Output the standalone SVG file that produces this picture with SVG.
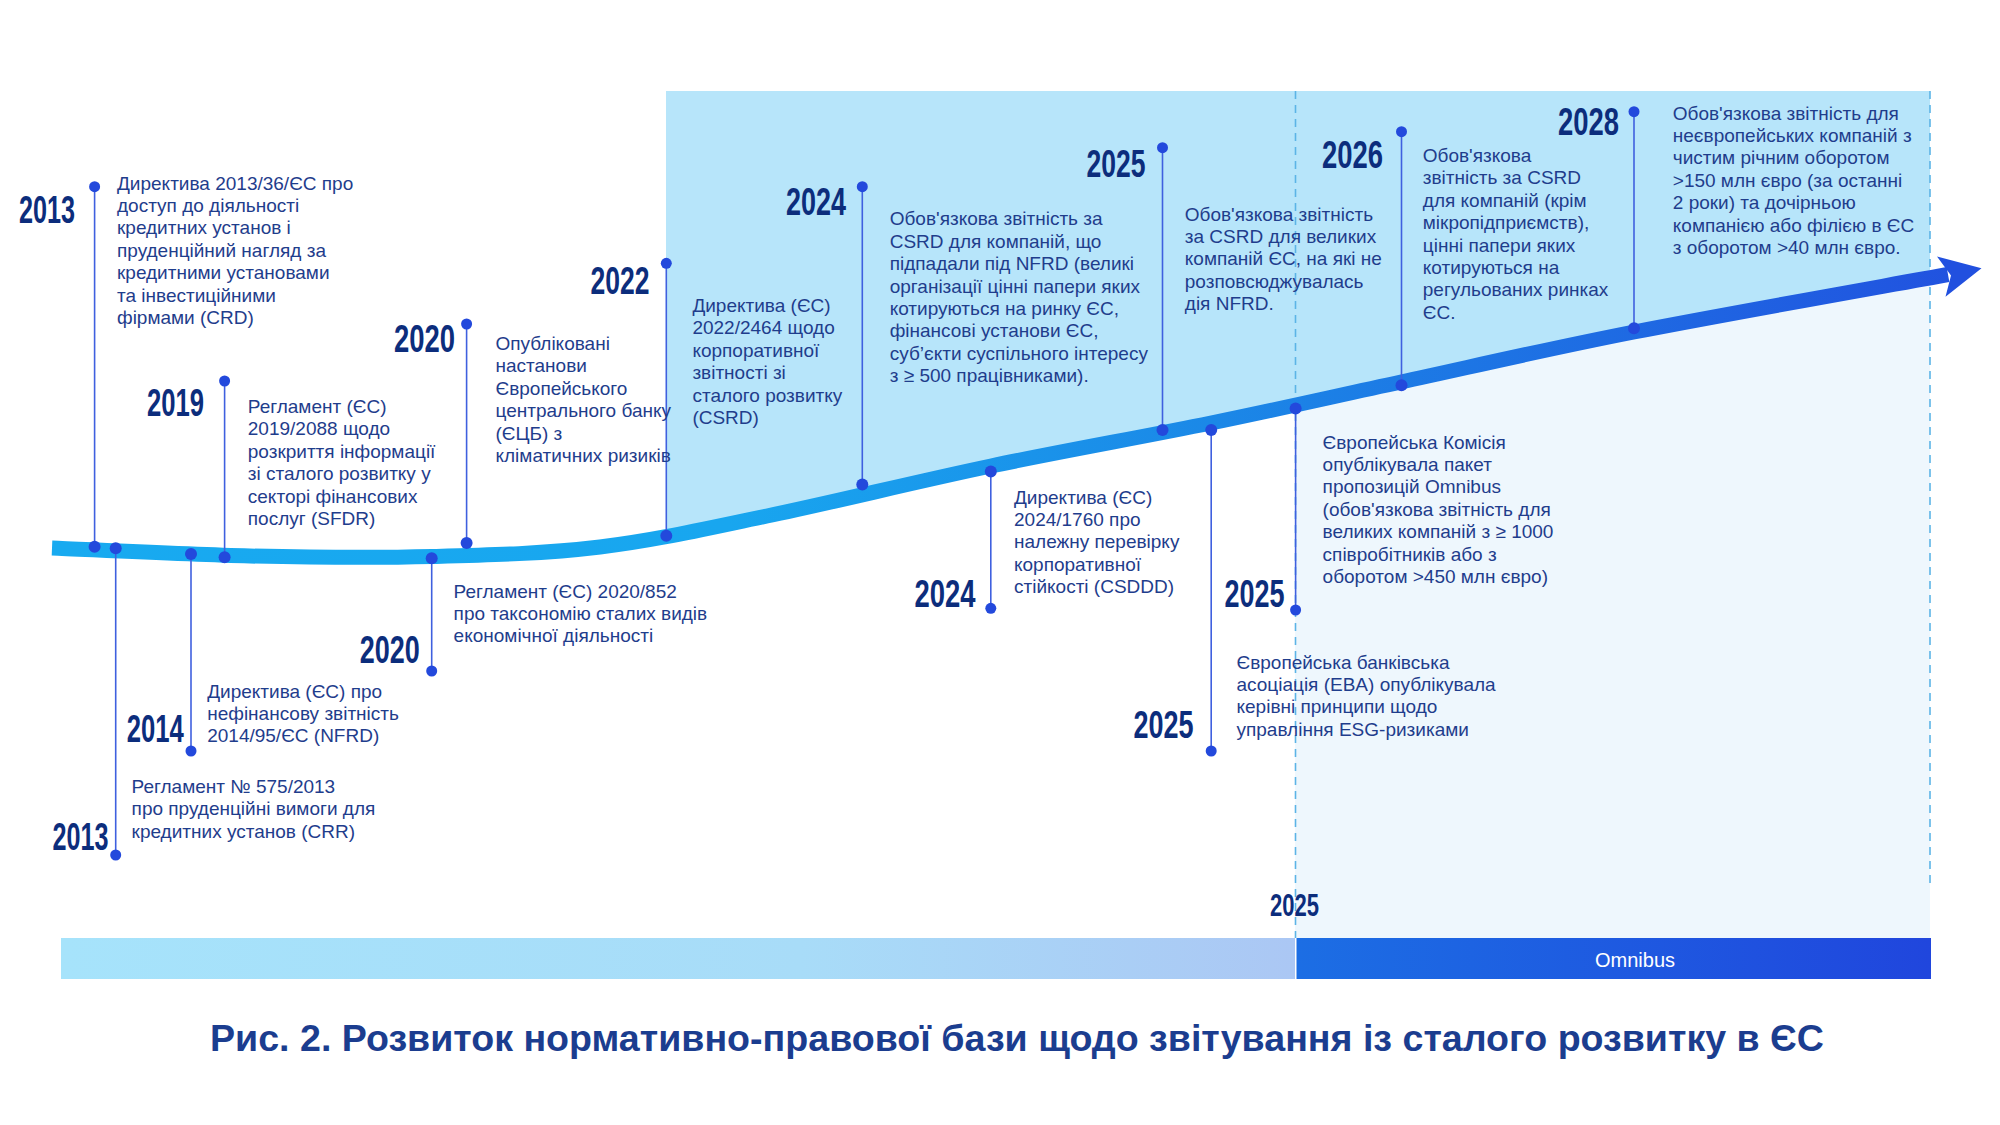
<svg xmlns="http://www.w3.org/2000/svg" width="2000" height="1125" viewBox="0 0 2000 1125">
<defs>
<style>
.t{font-family:"Liberation Sans",Arial,sans-serif;font-size:19px;fill:#1f3d8c}
.y{font-family:"Liberation Sans",Arial,sans-serif;font-size:39px;font-weight:bold;fill:#0c2d7c}
.ln{stroke:#3f60df;stroke-width:1.6;fill:none}
.dot{fill:#2349dc}
.dash{stroke:#5cb4e6;stroke-width:1.6;stroke-dasharray:8 6;fill:none}
.cap{font-family:"Liberation Sans",Arial,sans-serif;font-size:36px;font-weight:bold;fill:#1b3d8f}
</style>
<linearGradient id="gCurve" gradientUnits="userSpaceOnUse" x1="52" y1="0" x2="1985" y2="0">
<stop offset="0" stop-color="#18aaf0"/>
<stop offset="0.35" stop-color="#18a6ef"/>
<stop offset="0.6" stop-color="#1b88e7"/>
<stop offset="1" stop-color="#2150df"/>
</linearGradient>
<linearGradient id="gBarL" x1="0" y1="0" x2="1" y2="0">
<stop offset="0" stop-color="#a6e3fb"/>
<stop offset="0.6" stop-color="#a8dcf8"/>
<stop offset="1" stop-color="#abc7f4"/>
</linearGradient>
<linearGradient id="gBarR" x1="0" y1="0" x2="1" y2="0">
<stop offset="0" stop-color="#1c6ee4"/>
<stop offset="1" stop-color="#2046dd"/>
</linearGradient>
<clipPath id="above">
<path d="M52,548 C85,549.3 186.7,554.6 250,556 C313.3,557.4 373.7,558 432,556.5 C490.3,555 544.2,553.75 600,547 C655.8,540.25 701.8,529.5 767,516 C832.2,502.5 917,481.5 991,466 C1065,450.5 1142.7,437 1211,423 C1279.3,409 1330.5,397.2 1401,382 C1471.5,366.8 1542.8,349.9 1634,332 C1725.2,314.1 1895.7,284.1 1948,274.5 L2000,264 L2000,0 L0,0 L0,548 Z"/>
</clipPath>
<clipPath id="below">
<path d="M52,548 C85,549.3 186.7,554.6 250,556 C313.3,557.4 373.7,558 432,556.5 C490.3,555 544.2,553.75 600,547 C655.8,540.25 701.8,529.5 767,516 C832.2,502.5 917,481.5 991,466 C1065,450.5 1142.7,437 1211,423 C1279.3,409 1330.5,397.2 1401,382 C1471.5,366.8 1542.8,349.9 1634,332 C1725.2,314.1 1895.7,284.1 1948,274.5 L2000,264 L2000,1125 L0,1125 L0,548 Z"/>
</clipPath>
</defs>
<rect x="0" y="0" width="2000" height="1125" fill="#ffffff"/>

<g id="background">
<rect x="666" y="91" width="1264" height="480" fill="#b7e5fa" clip-path="url(#above)"/>
<rect x="1295" y="91" width="635" height="847" fill="#eef7fd" clip-path="url(#below)"/>
<line class="dash" x1="1295.5" y1="91" x2="1295.5" y2="938"/>
<line class="dash" x1="1930" y1="91" x2="1930" y2="886"/>
</g>

<g id="timeline">
<path d="M52,548 C85,549.3 186.7,554.6 250,556 C313.3,557.4 373.7,558 432,556.5 C490.3,555 544.2,553.75 600,547 C655.8,540.25 701.8,529.5 767,516 C832.2,502.5 917,481.5 991,466 C1065,450.5 1142.7,437 1211,423 C1279.3,409 1330.5,397.2 1401,382 C1471.5,366.8 1542.8,349.9 1634,332 C1725.2,314.1 1895.7,284.1 1948,274.5" fill="none" stroke="url(#gCurve)" stroke-width="15"/>
<polygon points="1937,256.5 1981.5,268.3 1945.5,296.7 1951,275.5" fill="#2150df"/>
</g>

<g id="connectors">
<line class="ln" x1="94.6" y1="186.7" x2="94.6" y2="546.7"/>
<circle class="dot" cx="94.6" cy="186.7" r="5.5"/><circle class="dot" cx="94.6" cy="546.7" r="6"/>
<line class="ln" x1="115.7" y1="548.3" x2="115.7" y2="855"/>
<circle class="dot" cx="115.7" cy="548.3" r="6"/><circle class="dot" cx="115.7" cy="855" r="5.5"/>
<line class="ln" x1="191" y1="554" x2="191" y2="751"/>
<circle class="dot" cx="191" cy="554" r="6"/><circle class="dot" cx="191" cy="751" r="5.5"/>
<line class="ln" x1="224.6" y1="381" x2="224.6" y2="557.3"/>
<circle class="dot" cx="224.6" cy="381" r="5.5"/><circle class="dot" cx="224.6" cy="557.3" r="6"/>
<line class="ln" x1="431.7" y1="558.3" x2="431.7" y2="671"/>
<circle class="dot" cx="431.7" cy="558.3" r="6"/><circle class="dot" cx="431.7" cy="671" r="5.5"/>
<line class="ln" x1="466.6" y1="324" x2="466.6" y2="543"/>
<circle class="dot" cx="466.6" cy="324" r="5.5"/><circle class="dot" cx="466.6" cy="543" r="6"/>
<line class="ln" x1="666.3" y1="263.3" x2="666.3" y2="535.7"/>
<circle class="dot" cx="666.3" cy="263.3" r="5.5"/><circle class="dot" cx="666.3" cy="535.7" r="6"/>
<line class="ln" x1="862.3" y1="186.7" x2="862.3" y2="484.5"/>
<circle class="dot" cx="862.3" cy="186.7" r="5.5"/><circle class="dot" cx="862.3" cy="484.5" r="6"/>
<line class="ln" x1="990.8" y1="471.5" x2="990.8" y2="608.3"/>
<circle class="dot" cx="990.8" cy="471.5" r="6"/><circle class="dot" cx="990.8" cy="608.3" r="5.5"/>
<line class="ln" x1="1162.5" y1="147.7" x2="1162.5" y2="430"/>
<circle class="dot" cx="1162.5" cy="147.7" r="5.5"/><circle class="dot" cx="1162.5" cy="430" r="6"/>
<line class="ln" x1="1211.2" y1="430" x2="1211.2" y2="751"/>
<circle class="dot" cx="1211.2" cy="430" r="6"/><circle class="dot" cx="1211.2" cy="751" r="5.5"/>
<line class="ln" x1="1295.6" y1="408.6" x2="1295.6" y2="610"/>
<circle class="dot" cx="1295.6" cy="408.6" r="6"/><circle class="dot" cx="1295.6" cy="610" r="5.5"/>
<line class="ln" x1="1401.5" y1="131.7" x2="1401.5" y2="385.3"/>
<circle class="dot" cx="1401.5" cy="131.7" r="5.5"/><circle class="dot" cx="1401.5" cy="385.3" r="6"/>
<line class="ln" x1="1634" y1="111.7" x2="1634" y2="328.3"/>
<circle class="dot" cx="1634" cy="111.7" r="5.5"/><circle class="dot" cx="1634" cy="328.3" r="6"/>
</g>

<g id="n2013-crd">
<text class="y" x="19" y="223.3" textLength="56" lengthAdjust="spacingAndGlyphs">2013</text>
<text class="t" y="189.6"><tspan x="117">Директива 2013/36/ЄС про</tspan><tspan x="117" dy="22.4">доступ до діяльності</tspan><tspan x="117" dy="22.4">кредитних установ і</tspan><tspan x="117" dy="22.4">пруденційний нагляд за</tspan><tspan x="117" dy="22.4">кредитними установами</tspan><tspan x="117" dy="22.4">та інвестиційними</tspan><tspan x="117" dy="22.4">фірмами (CRD)</tspan></text>
</g>

<g id="n2013-crr">
<text class="y" x="52.6" y="850" textLength="56" lengthAdjust="spacingAndGlyphs">2013</text>
<text class="t" y="793"><tspan x="131.6">Регламент № 575/2013</tspan><tspan x="131.6" dy="22.4">про пруденційні вимоги для</tspan><tspan x="131.6" dy="22.4">кредитних установ (CRR)</tspan></text>
</g>

<g id="n2014-nfrd">
<text class="y" x="126.8" y="742.3" textLength="57" lengthAdjust="spacingAndGlyphs">2014</text>
<text class="t" y="697.6"><tspan x="207.2">Директива (ЄС) про</tspan><tspan x="207.2" dy="22.4">нефінансову звітність</tspan><tspan x="207.2" dy="22.4">2014/95/ЄС (NFRD)</tspan></text>
</g>

<g id="n2019-sfdr">
<text class="y" x="147" y="416" textLength="57" lengthAdjust="spacingAndGlyphs">2019</text>
<text class="t" y="413"><tspan x="247.8">Регламент (ЄС)</tspan><tspan x="247.8" dy="22.4">2019/2088 щодо</tspan><tspan x="247.8" dy="22.4">розкриття інформації</tspan><tspan x="247.8" dy="22.4">зі сталого розвитку у</tspan><tspan x="247.8" dy="22.4">секторі фінансових</tspan><tspan x="247.8" dy="22.4">послуг (SFDR)</tspan></text>
</g>

<g id="n2020-taxonomy">
<text class="y" x="359.8" y="663.3" textLength="60" lengthAdjust="spacingAndGlyphs">2020</text>
<text class="t" y="597.6"><tspan x="453.6">Регламент (ЄС) 2020/852</tspan><tspan x="453.6" dy="22.4">про таксономію сталих видів</tspan><tspan x="453.6" dy="22.4">економічної діяльності</tspan></text>
</g>

<g id="n2020-ecb">
<text class="y" x="394" y="351.7" textLength="61" lengthAdjust="spacingAndGlyphs">2020</text>
<text class="t" y="350"><tspan x="495.5">Опубліковані</tspan><tspan x="495.5" dy="22.4">настанови</tspan><tspan x="495.5" dy="22.4">Європейського</tspan><tspan x="495.5" dy="22.4">центрального банку</tspan><tspan x="495.5" dy="22.4">(ЄЦБ) з</tspan><tspan x="495.5" dy="22.4">кліматичних ризиків</tspan></text>
</g>

<g id="n2022-csrd">
<text class="y" x="590.6" y="294" textLength="59" lengthAdjust="spacingAndGlyphs">2022</text>
<text class="t" y="312"><tspan x="692.4">Директива (ЄС)</tspan><tspan x="692.4" dy="22.4">2022/2464 щодо</tspan><tspan x="692.4" dy="22.4">корпоративної</tspan><tspan x="692.4" dy="22.4">звітності зі</tspan><tspan x="692.4" dy="22.4">сталого розвитку</tspan><tspan x="692.4" dy="22.4">(CSRD)</tspan></text>
</g>

<g id="n2024-csrd">
<text class="y" x="786" y="215" textLength="60" lengthAdjust="spacingAndGlyphs">2024</text>
<text class="t" y="225.3"><tspan x="889.7">Обов'язкова звітність за</tspan><tspan x="889.7" dy="22.4">CSRD для компаній, що</tspan><tspan x="889.7" dy="22.4">підпадали під NFRD (великі</tspan><tspan x="889.7" dy="22.4">організації цінні папери яких</tspan><tspan x="889.7" dy="22.4">котируються на ринку ЄС,</tspan><tspan x="889.7" dy="22.4">фінансові установи ЄС,</tspan><tspan x="889.7" dy="22.4">суб’єкти суспільного інтересу</tspan><tspan x="889.7" dy="22.4">з ≥ 500 працівниками).</tspan></text>
</g>

<g id="n2024-csddd">
<text class="y" x="914.4" y="607.3" textLength="61" lengthAdjust="spacingAndGlyphs">2024</text>
<text class="t" y="503.6"><tspan x="1014">Директива (ЄС)</tspan><tspan x="1014" dy="22.4">2024/1760 про</tspan><tspan x="1014" dy="22.4">належну перевірку</tspan><tspan x="1014" dy="22.4">корпоративної</tspan><tspan x="1014" dy="22.4">стійкості (CSDDD)</tspan></text>
</g>

<g id="n2025-nfrd">
<text class="y" x="1086.6" y="176.7" textLength="59" lengthAdjust="spacingAndGlyphs">2025</text>
<text class="t" y="220.6"><tspan x="1184.8">Обов'язкова звітність</tspan><tspan x="1184.8" dy="22.4">за CSRD для великих</tspan><tspan x="1184.8" dy="22.4">компаній ЄС, на які не</tspan><tspan x="1184.8" dy="22.4">розповсюджувалась</tspan><tspan x="1184.8" dy="22.4">дія NFRD.</tspan></text>
</g>

<g id="n2025-eba">
<text class="y" x="1133.6" y="738.3" textLength="60" lengthAdjust="spacingAndGlyphs">2025</text>
<text class="t" y="668.6"><tspan x="1236.5">Європейська банківська</tspan><tspan x="1236.5" dy="22.4">асоціація (EBA) опублікувала</tspan><tspan x="1236.5" dy="22.4">керівні принципи щодо</tspan><tspan x="1236.5" dy="22.4">управління ESG-ризиками</tspan></text>
</g>

<g id="n2025-omnibus">
<text class="y" x="1224.5" y="607.3" textLength="60" lengthAdjust="spacingAndGlyphs">2025</text>
<text class="t" y="448.6"><tspan x="1322.6">Європейська Комісія</tspan><tspan x="1322.6" dy="22.4">опублікувала пакет</tspan><tspan x="1322.6" dy="22.4">пропозицій Omnibus</tspan><tspan x="1322.6" dy="22.4">(обов'язкова звітність для</tspan><tspan x="1322.6" dy="22.4">великих компаній з ≥ 1000</tspan><tspan x="1322.6" dy="22.4">співробітників або з</tspan><tspan x="1322.6" dy="22.4">оборотом &gt;450 млн євро)</tspan></text>
</g>

<g id="n2026">
<text class="y" x="1322" y="168" textLength="61" lengthAdjust="spacingAndGlyphs">2026</text>
<text class="t" y="162"><tspan x="1422.8">Обов'язкова</tspan><tspan x="1422.8" dy="22.4">звітність за CSRD</tspan><tspan x="1422.8" dy="22.4">для компаній (крім</tspan><tspan x="1422.8" dy="22.4">мікропідприємств),</tspan><tspan x="1422.8" dy="22.4">цінні папери яких</tspan><tspan x="1422.8" dy="22.4">котируються на</tspan><tspan x="1422.8" dy="22.4">регульованих ринках</tspan><tspan x="1422.8" dy="22.4">ЄС.</tspan></text>
</g>

<g id="n2028">
<text class="y" x="1558" y="135" textLength="61" lengthAdjust="spacingAndGlyphs">2028</text>
<text class="t" y="119.6"><tspan x="1672.8">Обов'язкова звітність для</tspan><tspan x="1672.8" dy="22.4">неєвропейських компаній з</tspan><tspan x="1672.8" dy="22.4">чистим річним оборотом</tspan><tspan x="1672.8" dy="22.4">&gt;150 млн євро (за останні</tspan><tspan x="1672.8" dy="22.4">2 роки) та дочірньою</tspan><tspan x="1672.8" dy="22.4">компанією або філією в ЄС</tspan><tspan x="1672.8" dy="22.4">з оборотом &gt;40 млн євро.</tspan></text>
</g>

<g id="bottom-bar">
<rect x="61" y="938" width="1234" height="41" fill="url(#gBarL)"/>
<rect x="1296.5" y="938" width="634.5" height="41" fill="url(#gBarR)"/>
<text x="1270" y="916" font-family="Liberation Sans, Arial, sans-serif" font-size="32" font-weight="bold" fill="#0c2d7c" textLength="49" lengthAdjust="spacingAndGlyphs">2025</text>
<text x="1635" y="967" font-family="Liberation Sans, Arial, sans-serif" font-size="20" fill="#ffffff" text-anchor="middle">Omnibus</text>
</g>

<g id="caption">
<text class="cap" x="210" y="1051" textLength="1614" lengthAdjust="spacingAndGlyphs">Рис. 2. Розвиток нормативно-правової бази щодо звітування із сталого розвитку в ЄС</text>
</g>
</svg>
